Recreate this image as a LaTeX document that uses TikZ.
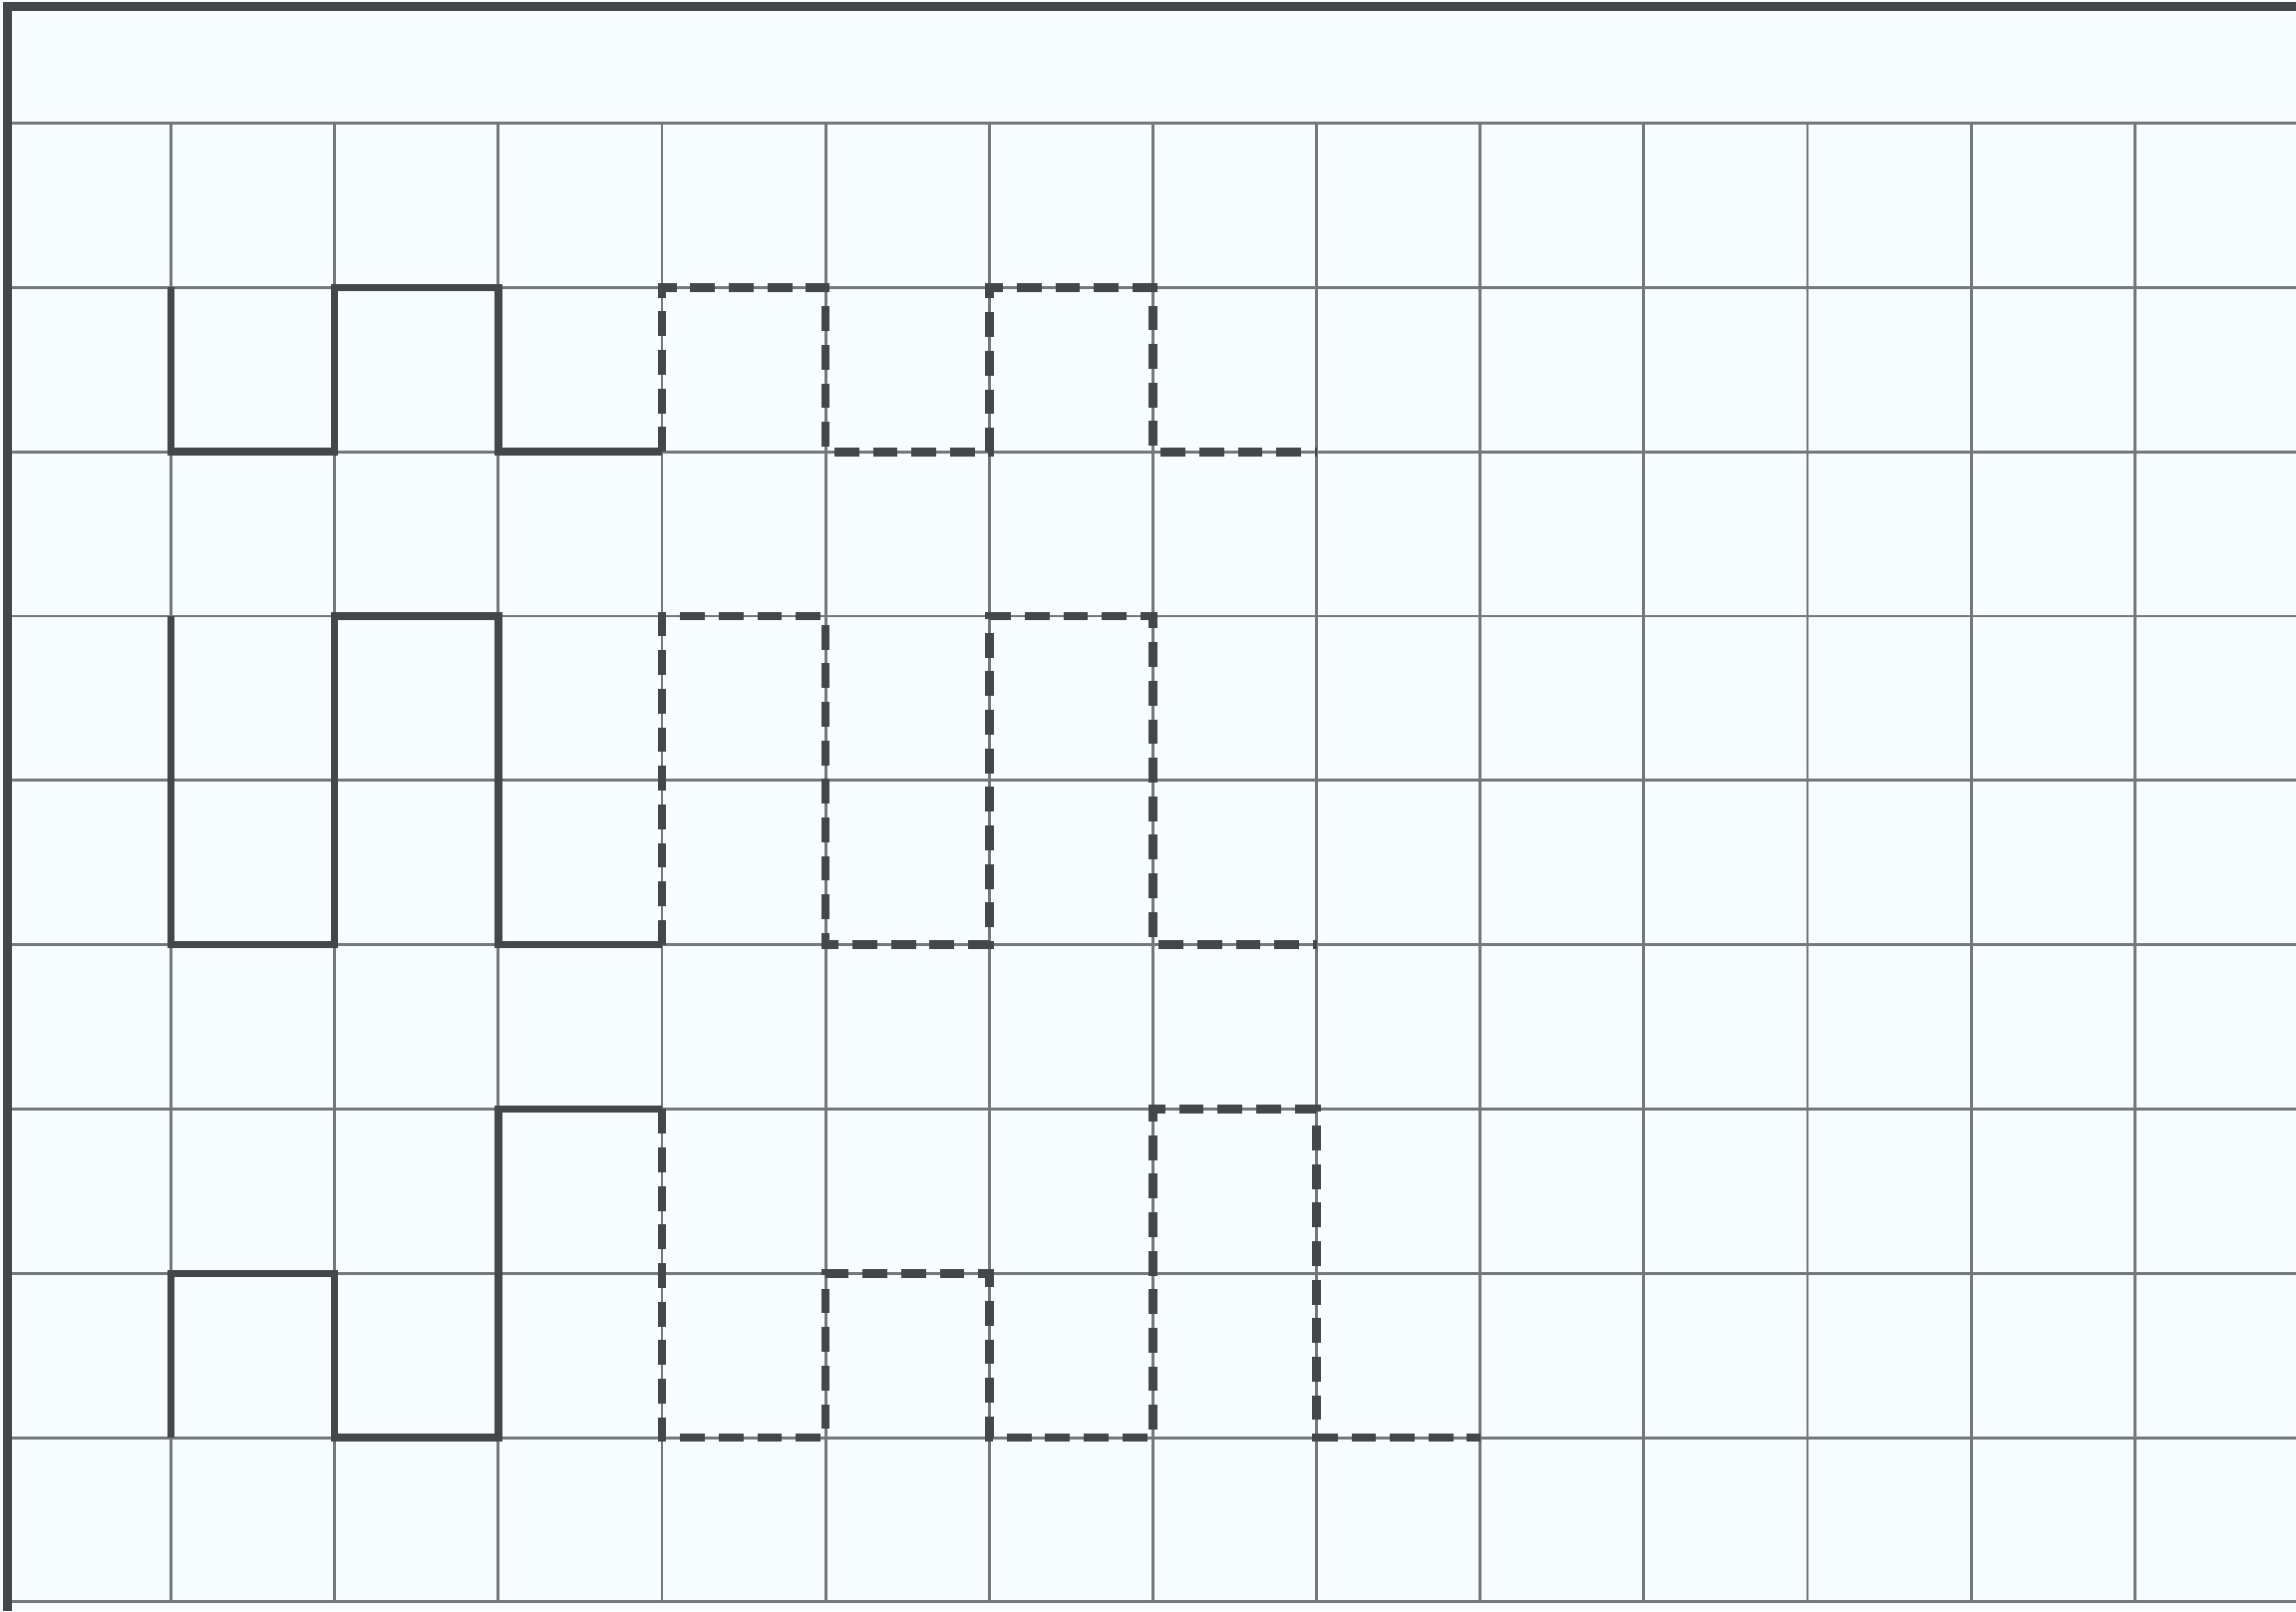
\documentclass[tikz,border=0pt]{standalone}
\usepackage{tikz}

\definecolor{paper}{HTML}{F7FCFF}
\definecolor{gridgray}{HTML}{74787A}
\definecolor{inkgray}{HTML}{444748}

\begin{document}
\begin{tikzpicture}[
        x=1cm, y=1.004cm,
        gridline/.style={draw=gridgray, line width=0.5pt},
        frameline/.style={draw=inkgray, line width=1.5pt},
        wave/.style={draw=inkgray, line width=1.3pt, line join=miter},
        wavedash/.style={wave, line width=1.5pt, dash pattern=on 4.3pt off 2.4pt}
    ]
    % Background
    \fill[paper] (-0.045,-0.056) rectangle (13.985,9.75);
    \useasboundingbox (-0.045,-0.056) rectangle (13.985,9.75);

    % Grid
    \foreach \col in {1,...,13}
        \draw[gridline] (\col,0) -- (\col,9);
    \foreach \row in {0,...,9}
        \draw[gridline] (0,\row) -- (13.985,\row);

    % Frame
    \draw[frameline] (0,-0.056) -- (0,9.71) -- (13.985,9.71);

    % Signals
    \draw[wave] (1,8) -- (1,7) -- (2,7) -- (2,8) -- (3,8) -- (3,7) -- (4,7);
    \draw[wavedash] (4,7) -- (4,8) -- (5,8) -- (5,7) -- (6,7) -- (6,8) -- (7,8) -- (7,7) -- (8,7);

    \draw[wave] (1,6) -- (1,4) -- (2,4) -- (2,6) -- (3,6) -- (3,4) -- (4,4);
    \draw[wavedash] (4,4) -- (4,6) -- (5,6) -- (5,4) -- (6,4) -- (6,6) -- (7,6) -- (7,4) -- (8,4);

    \draw[wave] (1,1) -- (1,2) -- (2,2) -- (2,1) -- (3,1) -- (3,3) -- (4,3);
    \draw[wavedash] (4,3) -- (4,1) -- (5,1) -- (5,2) -- (6,2) -- (6,1) -- (7,1) -- (7,3) -- (8,3) -- (8,1) -- (9,1);
\end{tikzpicture}
\end{document}
